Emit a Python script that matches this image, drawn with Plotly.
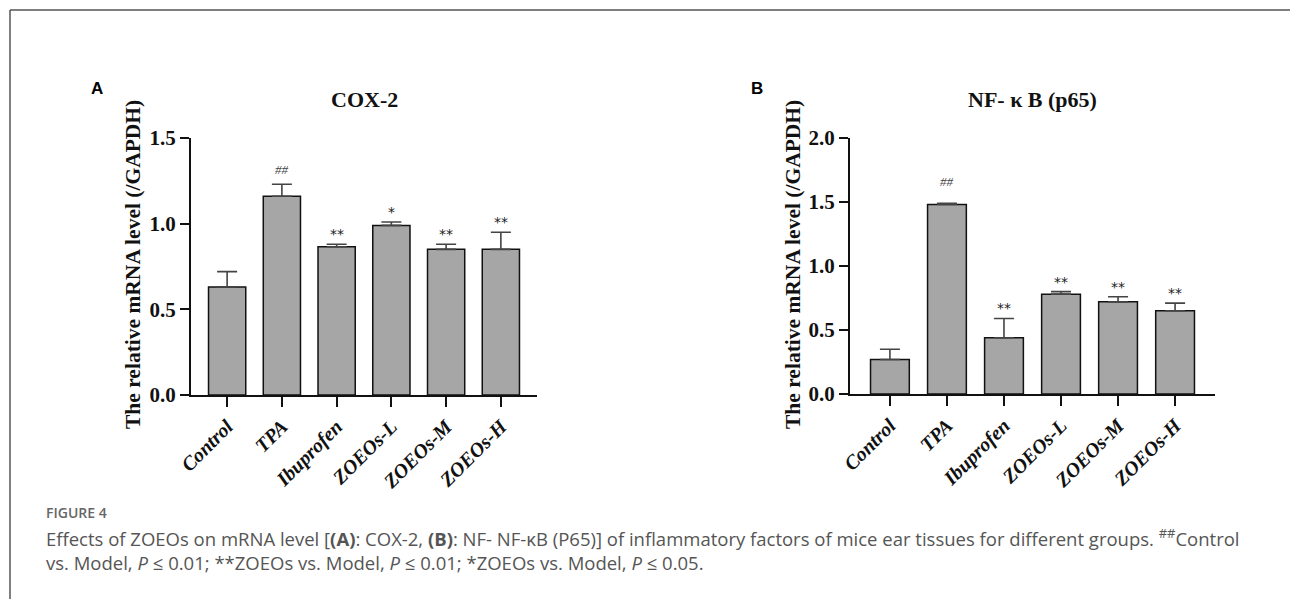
import plotly.graph_objects as go

W, H = 1290, 599

groups = ["Control", "TPA", "Ibuprofen", "ZOEOs-L", "ZOEOs-M", "ZOEOs-H"]

cox2_mean = [0.63, 1.16, 0.865, 0.99, 0.85, 0.85]
cox2_err = [0.09, 0.07, 0.015, 0.02, 0.03, 0.10]
cox2_sig = ["", "##", "**", "*", "**", "**"]

nfkb_mean = [0.27, 1.48, 0.44, 0.78, 0.72, 0.65]
nfkb_err = [0.08, 0.01, 0.15, 0.02, 0.04, 0.06]
nfkb_sig = ["", "##", "**", "**", "**", "**"]

panels = [
    dict(letter="A", title="COX-2", mean=cox2_mean, err=cox2_err, sig=cox2_sig,
         ymax=1.5, px_x=(191, 537), px_y=(138, 395), ytitle_x=133, letter_x=97, xr=(-0.66, 5.66)),
    dict(letter="B", title="NF- \u03ba B (p65)", mean=nfkb_mean, err=nfkb_err, sig=nfkb_sig,
         ymax=2.0, px_x=(850, 1215), px_y=(138, 394), ytitle_x=793, letter_x=757, xr=(-0.7, 5.7)),
]

SERIF = "Liberation Serif, Times New Roman, serif"
fig = go.Figure()
annotations = []
shapes = []

for i, p in enumerate(panels):
    ax = "" if i == 0 else str(i + 1)
    xs = list(range(len(groups)))
    fig.add_trace(go.Bar(
        x=xs, y=p["mean"], width=0.68,
        marker=dict(color="#a6a6a6", line=dict(color="#111111", width=1.5)),
        error_y=dict(type="data", symmetric=False, array=p["err"], arrayminus=[0] * len(xs),
                     color="#444444", thickness=1.6, width=10),
        xaxis="x" + ax, yaxis="y" + ax, showlegend=False, hoverinfo="skip",
    ))
    x0, x1 = p["px_x"]
    y0, y1 = p["px_y"]
    xdom = [x0 / W, x1 / W]
    ydom = [1 - y1 / H, 1 - y0 / H]
    fig.layout["xaxis" + ax] = dict(
        domain=xdom, range=list(p["xr"]), anchor="y" + ax, automargin=False,
        tickmode="array", tickvals=xs, ticktext=groups, tickangle=-45,
        ticks="outside", ticklen=10, tickwidth=2, tickcolor="#111",
        showline=True, linecolor="#111", linewidth=2, showgrid=False, zeroline=False,
        tickfont=dict(family=SERIF, size=20, color="#111", weight="bold", style="italic"),
        fixedrange=True,
    )
    fig.layout["yaxis" + ax] = dict(
        domain=ydom, range=[0, p["ymax"]], anchor="x" + ax, automargin=False,
        tickmode="linear", tick0=0, dtick=0.5, tickformat=".1f",
        ticks="outside", ticklen=9, tickwidth=2, tickcolor="#111",
        showline=True, linecolor="#111", linewidth=2, showgrid=False, zeroline=False,
        tickfont=dict(family=SERIF, size=21, color="#111", weight="bold"),
        fixedrange=True,
    )
    # title
    annotations.append(dict(text="<b>%s</b>" % p["title"], x=(x0 + x1) / 2 / W, y=1 - 99 / H,
                            xref="paper", yref="paper", showarrow=False,
                            xanchor="center", yanchor="middle",
                            font=dict(family=SERIF, size=22, color="#111")))
    # y axis title
    annotations.append(dict(text="<b>The relative mRNA level (/GAPDH)</b>", x=p["ytitle_x"] / W,
                            y=1 - 265 / H, xref="paper", yref="paper", showarrow=False,
                            textangle=-90, xanchor="center", yanchor="middle",
                            font=dict(family=SERIF, size=21.5, color="#111")))
    # panel letter
    annotations.append(dict(text="<b>%s</b>" % p["letter"], x=p["letter_x"] / W, y=1 - 89 / H,
                            xref="paper", yref="paper", showarrow=False,
                            xanchor="center", yanchor="middle",
                            font=dict(family="Liberation Sans, Arial, sans-serif", size=17, color="#000")))
    # significance marks
    for j, s in enumerate(p["sig"]):
        if not s:
            continue
        top = p["mean"][j] + p["err"][j]
        if s == "##":
            font = dict(family=SERIF, size=13, color="#444", style="italic")
            shift = 5 if i == 0 else 12
        else:
            font = dict(family="DejaVu Sans, sans-serif", size=14, color="#222")
            shift = 0
        annotations.append(dict(text=s, x=j, y=top, xref="x" + ax, yref="y" + ax,
                                showarrow=False, yanchor="bottom", yshift=shift, font=font))

# caption
CAP = "Open Sans, Lato, sans-serif"
annotations.append(dict(text="FIGURE 4", x=44 / W, y=1 - 512 / H, xref="paper", yref="paper",
                        xanchor="left", yanchor="middle", showarrow=False,
                        font=dict(family=CAP, size=14, color="#666666", weight=600)))
caption = ("Effects of ZOEOs on mRNA level [<b>(A)</b>: COX-2, <b>(B)</b>: NF- NF-\u03baB (P65)] of inflammatory "
           "factors of mice ear tissues for different groups. <sup>##</sup>Control<br>"
           "vs. Model, <i>P</i> \u2264 0.01; **ZOEOs vs. Model, <i>P</i> \u2264 0.01; "
           "*ZOEOs vs. Model, <i>P</i> \u2264 0.05.")
annotations.append(dict(text=caption, x=44 / W, y=1 - 549 / H, xref="paper", yref="paper",
                        xanchor="left", yanchor="middle", align="left", showarrow=False,
                        font=dict(family=CAP, size=18.5, color="#555555")))

# frame (open at right and bottom, as cropped)
shapes.append(dict(type="line", xref="paper", yref="paper", x0=10 / W, x1=1.0, y0=1 - 10 / H, y1=1 - 10 / H,
                   line=dict(color="#555555", width=1.5)))
shapes.append(dict(type="line", xref="paper", yref="paper", x0=10 / W, x1=10 / W, y0=0, y1=1 - 10 / H,
                   line=dict(color="#555555", width=1.5)))

fig.update_layout(
    width=W, height=H, margin=dict(l=0, r=0, t=0, b=0, pad=0, autoexpand=False),
    paper_bgcolor="white", plot_bgcolor="white",
    annotations=annotations, shapes=shapes, bargap=0.32,
)

fig.write_html("out.html", config={"displayModeBar": False},
               post_script="document.body.style.margin='0';"
                           "document.documentElement.style.overflow='hidden';")
